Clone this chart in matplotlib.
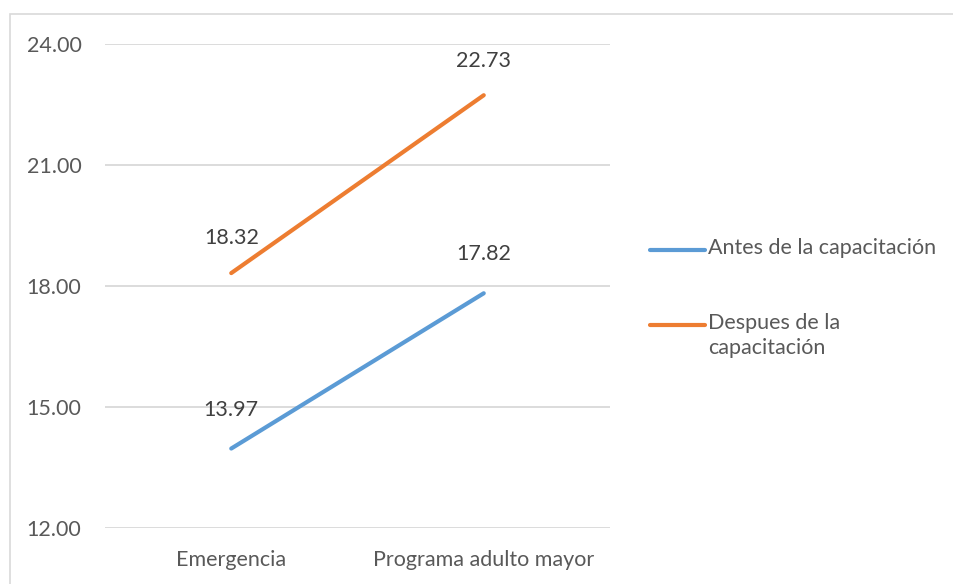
import matplotlib.pyplot as plt
from matplotlib.lines import Line2D
from matplotlib.patches import Rectangle

categorias = ["Emergencia", "Programa adulto mayor"]
antes = [13.97, 17.82]
despues = [18.32, 22.73]
series = ["Antes de la capacitación", "Despues de la\ncapacitación"]
yticks = [12, 15, 18, 21, 24]

azul = "#5b9bd5"
naranja = "#ed7d31"
gris_texto = "#595959"
gris_linea = "#d9d9d9"
fs = 15.5

plt.rcParams["font.family"] = ["Lato", "DejaVu Sans"]

W, H = 954, 584
fig = plt.figure(figsize=(W / 100, H / 100), dpi=100)

# marco del grafico
fig.add_artist(Rectangle((10 / W, -0.05), 1.1, (H - 14) / H + 0.05,
                         transform=fig.transFigure, fill=False,
                         edgecolor=gris_linea, linewidth=1.2, clip_on=False))

ax = fig.add_axes([105 / W, 56 / H, 505 / W, 484 / H])
x = range(len(categorias))

ax.plot(x, antes, color=azul, linewidth=3, solid_capstyle="round")
ax.plot(x, despues, color=naranja, linewidth=3, solid_capstyle="round")

for xi, v in zip(x, antes):
    ax.annotate(f"{v:.2f}", (xi, v), xytext=(0, 28), textcoords="offset points",
                ha="center", va="center", fontsize=fs, color="#404040")
for xi, v in zip(x, despues):
    ax.annotate(f"{v:.2f}", (xi, v), xytext=(0, 25), textcoords="offset points",
                ha="center", va="center", fontsize=fs, color="#404040")

ax.set_xlim(-0.5, 1.5)
ax.set_ylim(12, 24)
ax.set_yticks(yticks)
ax.set_yticklabels([f"{t:.2f}" for t in yticks])
ax.set_xticks(list(x))
ax.set_xticklabels(categorias)
ax.grid(axis="y", color=gris_linea, linewidth=1.3)
ax.set_axisbelow(True)
for s in ax.spines.values():
    s.set_visible(False)
ax.tick_params(length=0, labelsize=fs, labelcolor=gris_texto)
ax.tick_params(axis="y", pad=17)
ax.tick_params(axis="x", pad=16)

# leyenda
for color, yl, lab in [(azul, 250, series[0]), (naranja, 325, series[1])]:
    fig.add_artist(Line2D([650 / W, 705 / W], [1 - yl / H, 1 - yl / H],
                          transform=fig.transFigure, color=color,
                          linewidth=3, solid_capstyle="round"))
    fig.text(708 / W, 1 - (yl - 12) / H, lab, ha="left", va="top",
             fontsize=fs, color=gris_texto, linespacing=1.3)

fig.savefig("out.png", dpi=100, facecolor="white")
